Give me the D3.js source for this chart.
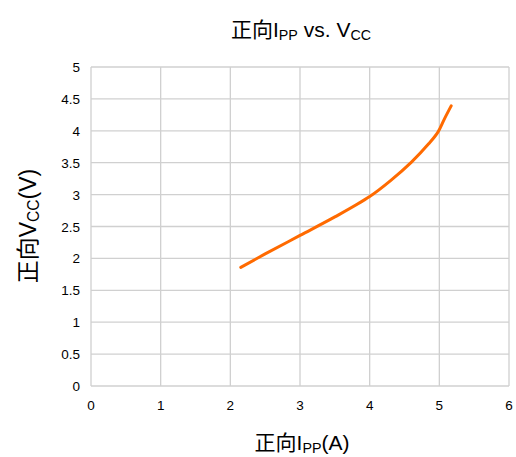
<!DOCTYPE html>
<html>
<head>
<meta charset="utf-8">
<script src="https://cdn.jsdelivr.net/npm/d3@7"></script>
<style>
  body { margin: 0; background: #fff; }
  text { font-family: "Liberation Sans", Arial, sans-serif; fill: #000; }
  .cjk { font-family: "Noto Sans CJK SC", sans-serif; }
</style>
</head>
<body>
<div id="vis"></div>
<script>
// data
var ippValues = [2.15, 2.5, 3.0, 3.5, 4.0, 4.3, 4.6, 4.85, 4.98, 5.07, 5.17];
var vccValues = [1.86, 2.07, 2.36, 2.65, 2.97, 3.22, 3.51, 3.8, 3.98, 4.18, 4.39];
var xTicks = [0, 1, 2, 3, 4, 5, 6];
var yTicks = [0, 0.5, 1, 1.5, 2, 2.5, 3, 3.5, 4, 4.5, 5];

var svgW = 516, svgH = 457;
var plotL = 91, plotR = 509, plotT = 67, plotB = 386;

var svg = d3.select('#vis').append('svg').attr('width', svgW).attr('height', svgH);
var g = svg.append('g');

var x = d3.scaleLinear().domain([0, 6]).range([plotL, plotR]);
var y = d3.scaleLinear().domain([0, 5]).range([plotB, plotT]);

//grid lines
g.selectAll('.xGrid').data(xTicks).enter().append('line').attr('class', 'xGrid')
  .attr('x1', function(d){return x(d);}).attr('x2', function(d){return x(d);})
  .attr('y1', plotT).attr('y2', plotB)
  .attr('stroke', '#d0d0d0').attr('stroke-width', 1.3);
g.selectAll('.yGrid').data(yTicks).enter().append('line').attr('class', 'yGrid')
  .attr('x1', plotL).attr('x2', plotR)
  .attr('y1', function(d){return y(d);}).attr('y2', function(d){return y(d);})
  .attr('stroke', '#d0d0d0').attr('stroke-width', 1.3);

//tick labels
g.selectAll('.yLabel').data(yTicks).enter().append('text').attr('class', 'yLabel')
  .text(String).attr('x', 80).attr('y', function(d){return y(d) + 5;})
  .attr('text-anchor', 'end').style('font-size', '13.5px');
g.selectAll('.xLabel').data(xTicks).enter().append('text').attr('class', 'xLabel')
  .text(String).attr('x', function(d){return x(d);}).attr('y', 410)
  .attr('text-anchor', 'middle').style('font-size', '13.5px');

//curve
var line = d3.line()
  .x(function(d){return x(d[0]);})
  .y(function(d){return y(d[1]);})
  .curve(d3.curveCatmullRom.alpha(0.5));
var pts = ippValues.map(function(v, i){return [v, vccValues[i]];});
g.append('path').datum(pts).attr('d', line)
  .attr('fill', 'none').attr('stroke', '#ff6a00').attr('stroke-width', 3)
  .attr('stroke-linecap', 'round');

//label with subscripts
function label(parent, cx, cy, size, parts) {
  var t = parent.append('text').attr('x', cx).attr('y', cy)
    .attr('text-anchor', 'middle').style('font-size', size + 'px');
  parts.forEach(function(p){
    var s = t.append('tspan').text(p[0]);
    if (p[1] == 'cjk') s.attr('class', 'cjk');
    if (p[1] == 'sub') s.style('font-size', (size * 0.68) + 'px').attr('dy', size * 0.12);
    if (p[1] == 'up') s.attr('dy', -size * 0.12);
  });
  return t;
}

label(svg, 301, 37, 21, [['正向', 'cjk'], ['I', ''], ['PP', 'sub'], [' vs. V', 'up'], ['CC', 'sub']]);
label(svg, 302, 450, 21, [['正向', 'cjk'], ['I', ''], ['PP', 'sub'], ['(A)', 'up']]);
label(svg.append('g').attr('transform', 'translate(36,226) rotate(-90)'), 0, 0, 23,
  [['正向', 'cjk'], ['V', ''], ['CC', 'sub'], ['(V)', 'up']]);
</script>
</body>
</html>
